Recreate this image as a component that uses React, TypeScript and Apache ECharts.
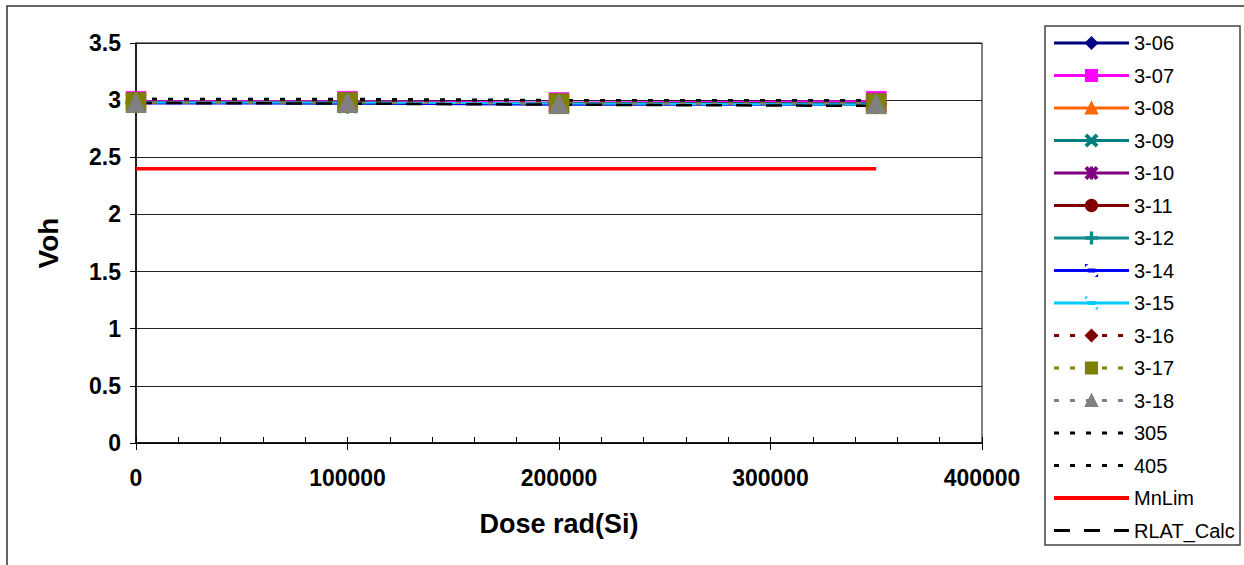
import React, { useEffect, useRef } from "react";
import * as echarts from "echarts";

// ---- data ----
const doses = [0, 100000, 200000, 350000];
const seriesNames = ["3-06", "3-07", "3-08", "3-09", "3-10", "3-11", "3-12", "3-14", "3-15", "3-16", "3-17", "3-18", "305", "405", "MnLim", "RLAT_Calc"];
const v306 = [2.98, 2.98, 2.97, 2.97];
const v307 = [2.99, 2.99, 2.98, 2.99];
const v308 = [2.98, 2.98, 2.97, 2.97];
const v309 = [2.98, 2.97, 2.97, 2.97];
const v310 = [2.98, 2.98, 2.97, 2.97];
const v311 = [2.98, 2.98, 2.97, 2.97];
const v312 = [2.98, 2.97, 2.97, 2.97];
const v314 = [2.97, 2.97, 2.96, 2.96];
const v315 = [2.98, 2.98, 2.97, 2.96];
const v316 = [2.98, 2.98, 2.97, 2.97];
const v317 = [2.98, 2.98, 2.97, 2.97];
const v318 = [2.98, 2.98, 2.97, 2.97];
const v305 = [3.01, 3.01, 3.0, 3.0];
const v405 = [3.01, 3.0, 3.0, 3.0];
const vMnLim = [2.4, 2.4, 2.4, 2.4];
const vRlat = [2.975, 2.97, 2.96, 2.95];
const seriesValues = [v306, v307, v308, v309, v310, v311, v312, v314, v315, v316, v317, v318, v305, v405, vMnLim, vRlat];

const xTicks = [0, 100000, 200000, 300000, 400000];
const yTicks = [0, 0.5, 1, 1.5, 2, 2.5, 3, 3.5];

// ---- styles ----
const SYM_X = "path://M0,1.2 L1.2,0 L10,8.8 L8.8,10 Z M8.8,0 L10,1.2 L1.2,10 L0,8.8 Z";
const SYM_PLUS = "path://M4.4,0 H5.6 V10 H4.4 Z M0,4.4 H10 V5.6 H0 Z";
const SYM_STAR = "path://M0,1.2 L1.2,0 L10,8.8 L8.8,10 Z M8.8,0 L10,1.2 L1.2,10 L0,8.8 Z M4.4,0 H5.6 V10 H4.4 Z";
const SYM_DASH = "path://M0,0 L0.01,0 L0,0.01 Z M10,10 L9.99,10 L10,9.99 Z M2.5,4.2 H7.5 V5.8 H2.5 Z";

type St = { color: string; symbol: string; dash?: any; width: number };
const styles: St[] = [
  { color: "#000080", symbol: "diamond", width: 2 },
  { color: "#FF00FF", symbol: "rect", width: 2 },
  { color: "#FF6600", symbol: "triangle", width: 2 },
  { color: "#008080", symbol: SYM_X, width: 2 },
  { color: "#800080", symbol: SYM_STAR, width: 2 },
  { color: "#800000", symbol: "circle", width: 2 },
  { color: "#118C8C", symbol: SYM_PLUS, width: 2 },
  { color: "#0000FF", symbol: SYM_DASH, width: 2 },
  { color: "#00CCFF", symbol: SYM_DASH, width: 2 },
  { color: "#800000", symbol: "diamond", dash: [5, 11], width: 2 },
  { color: "#808000", symbol: "rect", dash: [5, 11], width: 2 },
  { color: "#808080", symbol: "triangle", dash: [5, 11], width: 2 },
  { color: "#000000", symbol: "none", dash: [5, 11], width: 2.5 },
  { color: "#000000", symbol: "none", dash: [5, 11], width: 2.5 },
  { color: "#FF0000", symbol: "none", width: 3.5 },
  { color: "#000000", symbol: "none", dash: [16, 14], width: 2.5 },
];

const FONT = 'Arial, "Liberation Sans", sans-serif';

export default function App() {
  const ref = useRef<HTMLDivElement>(null);
  useEffect(() => {
    if (!ref.current) return;
    const chart = echarts.init(ref.current, undefined, { renderer: "svg" });
    const series = seriesNames.map((name, i) => {
      const s = styles[i];
      return {
        name,
        type: "line",
        xAxisIndex: 0,
        yAxisIndex: 0,
        data: doses.map((d, j) => [d, seriesValues[i][j]]),
        symbol: s.symbol,
        symbolSize: 20,
        showSymbol: s.symbol !== "none",
        lineStyle: { color: s.color, width: s.width, type: s.dash ? s.dash : "solid" },
        itemStyle: { color: s.color, borderColor: s.color, borderWidth: 0.5 },
        emphasis: { disabled: true },
        z: 2,
      };
    });
    const legendData = seriesNames.map((name, i) => {
      const s = styles[i];
      const item: any = { name, lineStyle: { width: s.width > 3 ? 4 : 3 } };
      if (s.symbol === "none") item.itemStyle = { opacity: 0 };
      return item;
    });
    chart.setOption({
      animation: false,
      backgroundColor: "#ffffff",
      grid: {
        left: 136,
        top: 43,
        width: 846,
        height: 400,
        show: true,
        borderColor: "#000",
        borderWidth: 1,
        backgroundColor: "#fff",
        containLabel: false,
      },
      xAxis: [
        {
          type: "value",
          min: xTicks[0],
          max: xTicks[xTicks.length - 1],
          interval: xTicks[1] - xTicks[0],
          position: "bottom",
          name: "Dose rad(Si)",
          nameLocation: "middle",
          nameGap: 67,
          nameTextStyle: { fontFamily: FONT, fontSize: 27, fontWeight: "bold", color: "#000" },
          axisLine: { lineStyle: { color: "#000", width: 1.5 } },
          axisTick: { show: true, inside: false, length: 7, lineStyle: { color: "#000" } },
          axisLabel: {
            fontFamily: FONT,
            fontSize: 23,
            fontWeight: "bold",
            color: "#000",
            margin: 23,
            formatter: (v: number) => String(v),
          },
          splitLine: { show: false },
        },
        {
          type: "value",
          min: 0,
          max: 400000,
          interval: 20000,
          position: "bottom",
          axisLine: { show: false },
          axisTick: { show: true, inside: true, length: 6, lineStyle: { color: "#000" } },
          axisLabel: { show: false },
          splitLine: { show: false },
        },
      ],
      yAxis: {
        type: "value",
        min: yTicks[0],
        max: yTicks[yTicks.length - 1],
        interval: yTicks[1] - yTicks[0],
        name: "Voh",
        nameLocation: "middle",
        nameRotate: 90,
        nameGap: 74,
        nameTextStyle: { fontFamily: FONT, fontSize: 28, fontWeight: "bold", color: "#000" },
        axisLine: { show: true, lineStyle: { color: "#000", width: 1.5 } },
        axisTick: { show: true, inside: false, length: 6, lineStyle: { color: "#000" } },
        axisLabel: { fontFamily: FONT, fontSize: 23, fontWeight: "bold", color: "#000", margin: 15 },
        splitLine: { show: true, lineStyle: { color: "#222", width: 1 } },
      },
      legend: {
        orient: "vertical",
        left: 1052,
        top: 33,
        padding: 0,
        itemWidth: 75,
        itemHeight: 14,
        itemGap: 12.5,
        selectedMode: false,
        data: legendData,
        textStyle: { fontFamily: FONT, fontSize: 20, color: "#000" },
      },
      graphic: [
        {
          type: "rect",
          shape: { x: 7, y: 6, width: 1300, height: 620 },
          style: { fill: "none", stroke: "#333", lineWidth: 1.5 },
          z: -10,
          silent: true,
        },
        {
          type: "rect",
          shape: { x: 1045, y: 26, width: 195, height: 519 },
          style: { fill: "#fff", stroke: "#444", lineWidth: 1.5 },
          z: -5,
          silent: true,
        },
      ],
      series,
    });
    return () => chart.dispose();
  }, []);
  return (
    <div
      ref={ref}
      style={{ position: "fixed", left: 0, top: 0, width: 1244, height: 565 }}
    />
  );
}
